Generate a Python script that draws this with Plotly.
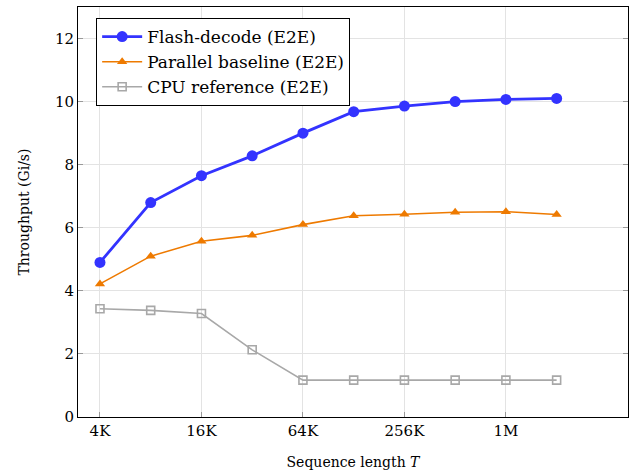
import plotly.graph_objects as go

seq_len = [4096, 8192, 16384, 32768, 65536, 131072, 262144, 524288, 1048576, 2097152]
flash = [4.9, 6.8, 7.65, 8.28, 9.0, 9.68, 9.86, 10.0, 10.07, 10.1]
parallel = [4.22, 5.1, 5.57, 5.76, 6.1, 6.38, 6.43, 6.49, 6.51, 6.42]
cpu = [3.43, 3.38, 3.28, 2.13, 1.17, 1.17, 1.17, 1.17, 1.17, 1.17]
tick_vals = [4096, 16384, 65536, 262144, 1048576]
tick_text = ["4K", "16K", "64K", "256K", "1M"]

FONT = "DejaVu Serif"
fig = go.Figure()
fig.add_trace(go.Scatter(x=seq_len, y=flash, mode="lines+markers", name="Flash-decode (E2E)",
                         line=dict(color="#3333ff", width=2.8),
                         marker=dict(symbol="circle", size=11, color="#3333ff")))
fig.add_trace(go.Scatter(x=seq_len, y=parallel, mode="lines+markers", name="Parallel baseline (E2E)",
                         line=dict(color="#ee7a00", width=1.6),
                         marker=dict(symbol="triangle-up", size=9, color="#ee7a00")))
fig.add_trace(go.Scatter(x=seq_len, y=cpu, mode="lines+markers", name="CPU reference (E2E)",
                         line=dict(color="#a8a8a8", width=1.6),
                         marker=dict(symbol="square-open", size=8, color="#a8a8a8", line=dict(width=1.6))))

fig.update_layout(
    width=629, height=472,
    margin=dict(l=78, r=1, t=7, b=55),
    paper_bgcolor="white", plot_bgcolor="white",
    font=dict(family=FONT, size=15, color="black"),
    showlegend=True,
    legend=dict(x=0.033, y=0.973, xanchor="left", yanchor="top",
                bgcolor="white", bordercolor="black", borderwidth=1,
                font=dict(family=FONT, size=17), tracegroupgap=0,
                itemwidth=40),
    xaxis=dict(type="log", range=[3.482, 6.745], tickvals=tick_vals, ticktext=tick_text,
               showgrid=True, gridcolor="#e3e3e3", gridwidth=1,
               showline=True, linecolor="black", linewidth=1, mirror=True,
               ticks="inside", ticklen=5, tickcolor="#999999",
               tickfont=dict(family=FONT, size=15),
               title=dict(text="Sequence length <i>T</i>", font=dict(family=FONT, size=14), standoff=18),
               zeroline=False),
    yaxis=dict(range=[0, 13], tickvals=[0, 2, 4, 6, 8, 10, 12],
               showgrid=True, gridcolor="#e3e3e3", gridwidth=1,
               showline=True, linecolor="black", linewidth=1, mirror="ticks",
               ticks="inside", ticklen=5, tickcolor="#999999",
               tickfont=dict(family=FONT, size=15),
               title=dict(text="Throughput (Gi/s)", font=dict(family=FONT, size=14), standoff=22),
               zeroline=False),
)
fig.write_html("out.html")
